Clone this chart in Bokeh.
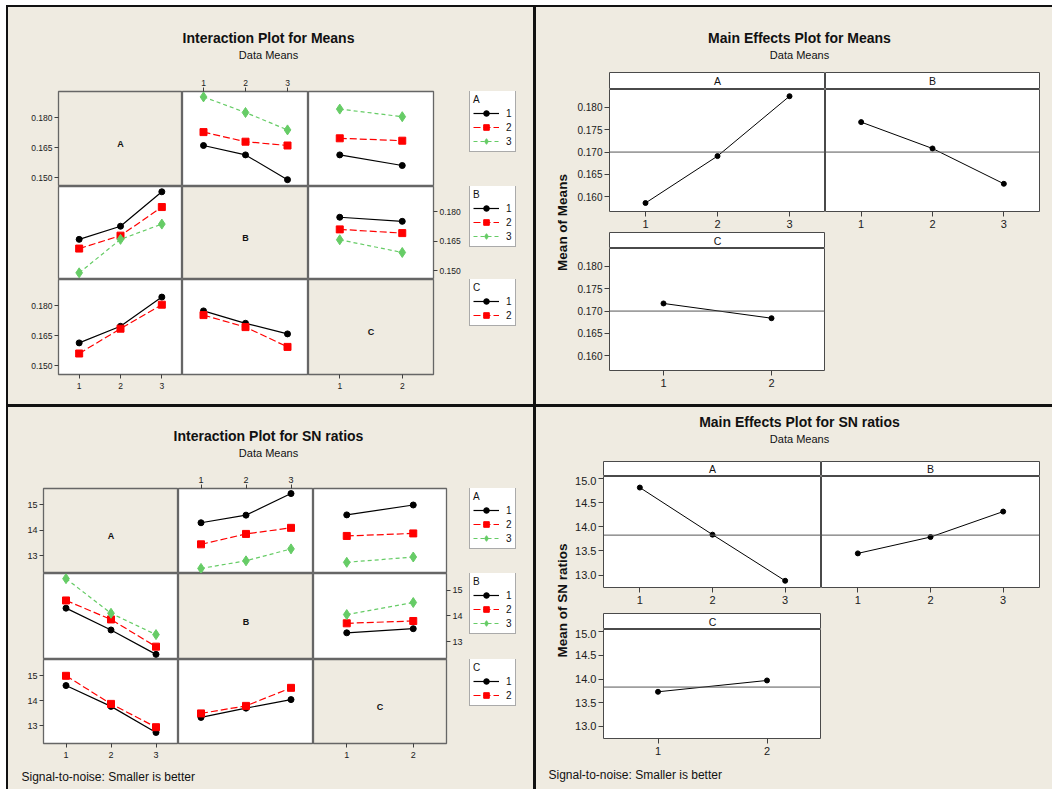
import math
from bokeh.plotting import figure
from bokeh.layouts import row, column
from bokeh.models import (Range1d, LinearAxis, FixedTicker, NumeralTickFormatter,
                          Label, Legend, LegendItem, Span)
from bokeh.core.properties import value
from bokeh.embed import file_html
from bokeh.resources import INLINE

# ---------------------------------------------------------------- data
FACTORS = ["A", "B", "C"]
LEVELS = {"A": [1, 2, 3], "B": [1, 2, 3], "C": [1, 2]}

# Mean of means, two-way tables (rows: first factor level, columns: second factor level)
means_AB = [[0.1660, 0.1613, 0.1489],
            [0.1727, 0.1679, 0.1660],
            [0.1903, 0.1825, 0.1738]]
means_AC = [[0.1613, 0.1560],
            [0.1696, 0.1684],
            [0.1842, 0.1804]]
means_BC = [[0.1773, 0.1752],
            [0.1711, 0.1692],
            [0.1658, 0.1593]]
means_main_A = [0.1586, 0.1691, 0.1825]
means_main_B = [0.1767, 0.1708, 0.1629]
means_main_C = [0.1717, 0.1684]
means_grand = 0.1700

# Mean of SN ratios (smaller is better), same layout
sn_AB = [[14.30, 14.60, 15.45],
         [13.45, 13.86, 14.10],
         [12.50, 12.80, 13.27]]
sn_AC = [[14.61, 15.00],
         [13.78, 13.88],
         [12.74, 12.95]]
sn_BC = [[13.34, 13.50],
         [13.71, 13.80],
         [14.05, 14.52]]
sn_main_A = [14.82, 13.84, 12.88]
sn_main_B = [13.45, 13.79, 14.32]
sn_main_C = [13.73, 13.97]
sn_grand = 13.83

means_ticks = [0.150, 0.165, 0.180]
sn_ticks = [13, 14, 15]
means_main_ticks = [0.160, 0.165, 0.170, 0.175, 0.180]
sn_main_ticks = [13.0, 13.5, 14.0, 14.5, 15.0]

# ---------------------------------------------------------------- styling
BEIGE = "#EFEBE1"
FONT = "Liberation Sans"
SERIES_STYLE = {
    1: dict(color="#000000", dash="solid", marker="circle", size=6),
    2: dict(color="#FF0000", dash="7 3", marker="square", size=7),
    3: dict(color="#66CC66", dash="4 3", marker="diamond", size=10),
}


def no_grid(p):
    p.xgrid.visible = False
    p.ygrid.visible = False
    return p


def canvas(w, h, fill=BEIGE):
    """Plain drawing area whose data units are pixels (y grows downwards)."""
    return no_grid(figure(width=w, height=h, output_backend="svg", toolbar_location=None, tools="",
                          x_axis_location=None, y_axis_location=None,
                          x_range=Range1d(0, w), y_range=Range1d(h, 0),
                          min_border_left=0, min_border_right=0, min_border_top=0, min_border_bottom=0,
                          background_fill_color=fill, border_fill_color=fill, outline_line_color=None))


def text(x, y, s, size, bold=False, align="center", angle=0.0, color="#111111", **kw):
    return Label(x=x, y=y, text=s, text_font=FONT, text_font_size=f"{size}px",
                 text_font_style="bold" if bold else "normal", text_align=align,
                 text_baseline="middle", angle=angle, text_color=color, **kw)


def panel_fig(w, h, xr, yr, borders, fill, outline, owidth=1.2):
    l, r, t, b = borders
    return no_grid(figure(width=w, height=h, output_backend="svg", toolbar_location=None, tools="",
                          x_axis_location=None, y_axis_location=None,
                          x_range=Range1d(*xr), y_range=Range1d(*yr),
                          min_border_left=l, min_border_right=r, min_border_top=t, min_border_bottom=b,
                          background_fill_color=fill, border_fill_color=BEIGE,
                          outline_line_color=outline, outline_line_width=owidth))


def axis(ticks, fmt, size, standoff=2, tick_out=4):
    return LinearAxis(ticker=FixedTicker(ticks=ticks), formatter=NumeralTickFormatter(format=fmt),
                      axis_line_color=None, major_tick_in=0, major_tick_out=tick_out,
                      major_tick_line_color="#404040", minor_tick_line_color=None,
                      major_label_text_font=FONT, major_label_text_font_size=f"{size}px",
                      major_label_text_color="#202020", major_label_standoff=standoff)


def series_values(tables, s_fac, s_idx, x_fac):
    """Values of level s_idx of factor s_fac across the levels of x_fac."""
    if (s_fac, x_fac) in tables:
        return list(tables[(s_fac, x_fac)][s_idx])
    return [r[s_idx] for r in tables[(x_fac, s_fac)]]


def draw_series(p, xs, ys, lvl):
    st = SERIES_STYLE[lvl]
    lr = p.line(xs, ys, line_color=st["color"], line_dash=st["dash"], line_width=1.2)
    sr = p.scatter(xs, ys, marker=st["marker"], size=st["size"], fill_color=st["color"],
                   line_color=st["color"])
    return [lr, sr]


# ---------------------------------------------------------------- interaction matrix
LEG_PAD, LEG_TITLE_H, LEG_ITEM_H, LEG_SPACING = 3, 13, 14, 0


def legend_panel(tables, factor, w, h, top, bottom, leg_x):
    """Key for the levels of one factor: its series sit outside the visible range."""
    other = "A" if factor != "A" else "B"
    p = panel_fig(w, h, (0.5, 3.5), (1e6, 1e6 + 1), (0, 0, top, bottom), BEIGE, None)
    items = []
    for si, lvl in enumerate(LEVELS[factor]):
        rs = draw_series(p, LEVELS[other], series_values(tables, factor, si, other), lvl)
        items.append(LegendItem(label=value(str(lvl)), renderers=rs))
    n = len(items)
    leg_h = 2 * LEG_PAD + LEG_TITLE_H + n * LEG_ITEM_H + (n - 1) * LEG_SPACING
    frame_h = h - top - bottom
    p.add_layout(Legend(items=items, location=(leg_x, frame_h - leg_h), title=factor,
                        title_text_font=FONT, title_text_font_size="10px",
                        title_text_font_style="normal", title_text_color="#111111",
                        title_text_align="right",
                        label_text_font=FONT, label_text_font_size="10px",
                        label_text_color="#111111",
                        glyph_width=26, glyph_height=LEG_ITEM_H, label_height=LEG_ITEM_H,
                        label_width=6, spacing=LEG_SPACING, padding=LEG_PAD, label_standoff=7,
                        title_standoff=1, margin=0,
                        border_line_color="#555555", border_line_width=1,
                        background_fill_color="white", background_fill_alpha=1.0))
    return p


def interaction_quadrant(tables, title, ticks, fmt, g, footnote=None):
    W = g["W"]
    head = canvas(W, g["head_h"])
    head.add_layout(text(g["title_x"], g["title_y"], title, 14, bold=True))
    head.add_layout(text(g["title_x"], g["sub_y"], "Data Means", 11))

    grid_rows = []
    for i, fi in enumerate(FACTORS):
        cells = []
        t, b = g["row_tb"][i]
        for j, fj in enumerate(FACTORS):
            nx = len(LEVELS[fj])
            l, r = g["col_lr"][j]
            diag = i == j
            p = panel_fig(g["col_w"][j], g["row_h"][i], (0.5, nx + 0.5), g["yr"], (l, r, t, b),
                          BEIGE if diag else "white", "#666666", 1.3)
            if diag:
                p.add_layout(text((nx + 1) / 2, sum(g["yr"]) / 2, fi, 9, bold=True, y_offset=-5))
            else:
                for si, lvl in enumerate(LEVELS[fi]):
                    draw_series(p, LEVELS[fj], series_values(tables, fi, si, fj), lvl)
            # axes around the matrix
            if j == 0 and i in (0, 2):
                p.add_layout(axis(ticks, fmt, g["tick_px"]), "left")
            if i == 1 and j == 2:
                p.add_layout(axis(ticks, fmt, g["tick_px"]), "right")
            if i == 0 and j == 1:
                p.add_layout(axis(LEVELS[fj], "0", g["tick_px"]), "above")
            if i == 2 and j in (0, 2):
                p.add_layout(axis(LEVELS[fj], "0", g["tick_px"], standoff=4), "below")
            cells.append(p)
        cells.append(legend_panel(tables, fi, g["leg_w"], g["row_h"][i], t, b, g["leg_x"]))
        grid_rows.append(row(*cells))

    parts = [head] + grid_rows
    if footnote:
        foot = canvas(W, g["foot_h"])
        foot.add_layout(text(g["foot_x"], g["foot_y"], footnote, 12, align="left"))
        parts.append(foot)
    return column(*parts, styles={"background-color": BEIGE})


# ---------------------------------------------------------------- main effects
def main_quadrant(mains, grand, title, ylabel, ticks, fmt, g, footnote=None):
    W = g["W"]
    head = canvas(W, g["head_h"])
    head.add_layout(text(g["title_x"], g["title_y"], title, 14, bold=True))
    head.add_layout(text(g["title_x"], g["sub_y"], "Data Means", 11))

    lab_h = g["strip_h"] + g["panel_h"] + g["stripc_h"] + g["panelc_h"]
    lab = canvas(g["lab_w"], lab_h)
    lab.add_layout(text(g["lab_x"], g["lab_y"], ylabel, 13.5, bold=True, angle=math.pi / 2))

    def strip(fac, w, l, r, h):
        s = panel_fig(w, h, (0, 1), (0, 1), (l, r, 0, 0), "white", "#4A4A4A", 1.0)
        s.add_layout(text(0.5, 0.5, fac, 10.5))
        return s

    def panel(fac, w, l, r, h, b, left_axis):
        nx = len(LEVELS[fac])
        p = panel_fig(w, h, (0.5, nx + 0.5), g["yr"], (l, r, 0, b), "white", "#4A4A4A", 1.0)
        p.add_layout(Span(location=grand, dimension="width", line_color="#555555", line_width=1))
        p.line(LEVELS[fac], mains[fac], line_color="black", line_width=1)
        p.scatter(LEVELS[fac], mains[fac], marker="circle", size=5, fill_color="black",
                  line_color="black")
        if left_axis:
            p.add_layout(axis(ticks, fmt, g["ytick_px"], tick_out=5), "left")
        p.add_layout(axis(LEVELS[fac], "0", 11, standoff=3, tick_out=5), "below")
        return p

    wA, lA, wB, rB = g["wA"], g["lA"], g["wB"], g["rB"]
    body = column(
        row(strip("A", wA, lA, 0, g["strip_h"]), strip("B", wB, 0, rB, g["strip_h"])),
        row(panel("A", wA, lA, 0, g["panel_h"], g["panel_b"], True),
            panel("B", wB, 0, rB, g["panel_h"], g["panel_b"], False)),
        row(strip("C", wA, lA, 0, g["stripc_h"]), canvas(wB, g["stripc_h"])),
        row(panel("C", wA, lA, 0, g["panelc_h"], g["panelc_b"], True),
            canvas(wB, g["panelc_h"])),
    )
    parts = [head, row(lab, body)]
    if footnote:
        foot = canvas(W, g["foot_h"])
        foot.add_layout(text(g["foot_x"], g["foot_y"], footnote, 12, align="left"))
        parts.append(foot)
    return column(*parts, styles={"background-color": BEIGE})


# ---------------------------------------------------------------- assemble
means_tables = {("A", "B"): means_AB, ("A", "C"): means_AC, ("B", "C"): means_BC}
sn_tables = {("A", "B"): sn_AB, ("A", "C"): sn_AC, ("B", "C"): sn_BC}
means_mains = {"A": means_main_A, "B": means_main_B, "C": means_main_C}
sn_mains = {"A": sn_main_A, "B": sn_main_B, "C": sn_main_C}

TL_GEO = dict(W=525, head_h=64, title_x=260, title_y=30, sub_y=47,
              col_w=[174, 126, 158], col_lr=[(50, 0), (0, 0), (0, 33)],
              row_h=[115, 93, 125], row_tb=[(20, 0), (0, 0), (0, 30)],
              yr=(0.1455, 0.1930), leg_w=67, leg_x=3, tick_px=8.5)
BL_GEO = dict(W=525, head_h=61, title_x=260, title_y=28, sub_y=45,
              col_w=[170, 135, 153], col_lr=[(35, 0), (0, 0), (0, 20)],
              row_h=[105, 86, 106], row_tb=[(20, 0), (0, 0), (0, 22)],
              yr=(12.30, 15.65), leg_w=67, leg_x=3, tick_px=9,
              foot_h=24, foot_x=13, foot_y=11)
TR_GEO = dict(W=516, head_h=65, title_x=263, title_y=30, sub_y=47,
              lab_w=36, lab_x=26, lab_y=150,
              wA=253, lA=37, wB=227, rB=13,
              strip_h=17, panel_h=143, panel_b=21, stripc_h=16, panelc_h=156, panelc_b=34,
              yr=(0.1567, 0.1840), ytick_px=10)
BR_GEO = dict(W=516, head_h=54, title_x=263, title_y=14, sub_y=31,
              lab_w=36, lab_x=26, lab_y=139,
              wA=249, lA=31, wB=231, rB=13,
              strip_h=15, panel_h=137, panel_b=26, stripc_h=16, panelc_h=131, panelc_b=22,
              yr=(12.74, 15.05), ytick_px=11, foot_h=29, foot_x=12, foot_y=14)

NOTE = "Signal-to-noise: Smaller is better"

tl = interaction_quadrant(means_tables, "Interaction Plot for Means", means_ticks, "0.000", TL_GEO)
tr = main_quadrant(means_mains, means_grand, "Main Effects Plot for Means", "Mean of Means",
                   means_main_ticks, "0.000", TR_GEO)
bl = interaction_quadrant(sn_tables, "Interaction Plot for SN ratios", sn_ticks, "0", BL_GEO,
                          footnote=NOTE)
br = main_quadrant(sn_mains, sn_grand, "Main Effects Plot for SN ratios", "Mean of SN ratios",
                   sn_main_ticks, "0.0", BR_GEO, footnote=NOTE)

page = column(row(tl, tr, spacing=3), row(bl, br, spacing=3), spacing=3,
              margin=(5, 0, 0, 6),
              styles={"background-color": "#111111", "padding": "2px 0px 0px 2px"})

open("out.html", "w").write(file_html(page, INLINE))
